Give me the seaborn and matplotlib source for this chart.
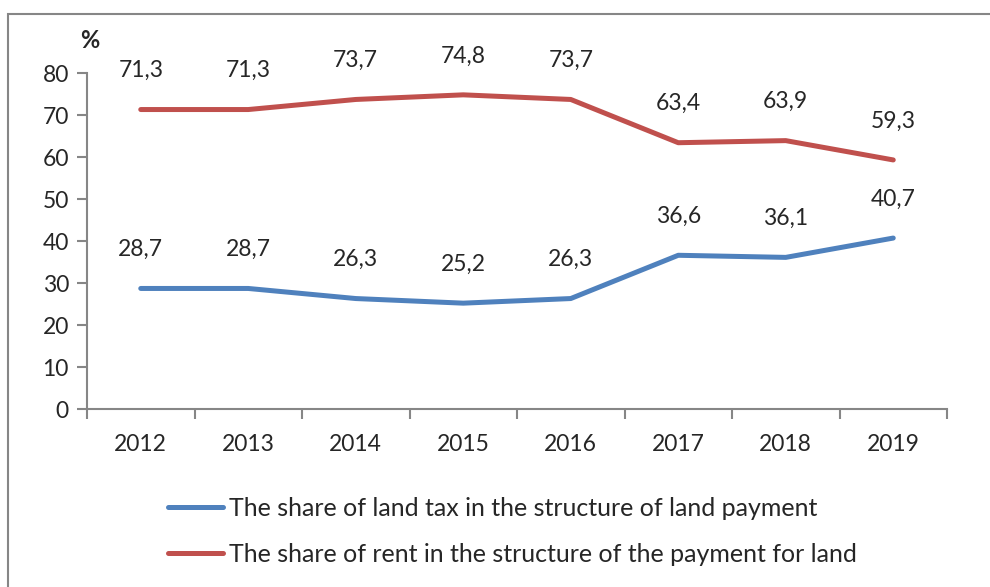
import matplotlib.pyplot as plt
import matplotlib.patches as patches
import numpy as np
import pandas as pd
import seaborn as sns

# data
years = ["2012", "2013", "2014", "2015", "2016", "2017", "2018", "2019"]
land_tax = [28.7, 28.7, 26.3, 25.2, 26.3, 36.6, 36.1, 40.7]
rent = [71.3, 71.3, 73.7, 74.8, 73.7, 63.4, 63.9, 59.3]
series_names = [
    "The share of land tax in the structure of land payment",
    "The share of rent in the structure of the payment for land",
]
colors = ["#4F81BD", "#C0504D"]

sns.set_style("white")
plt.rcParams["font.family"] = ["Lato", "DejaVu Sans"]

df = pd.DataFrame({
    "year": years * 2,
    "value": land_tax + rent,
    "series": [series_names[0]] * len(years) + [series_names[1]] * len(years),
})
df["pos"] = list(range(len(years))) * 2

fig = plt.figure(figsize=(9.9, 5.87), dpi=100)
ax = fig.add_axes([87 / 990, 1 - 409 / 587, (947 - 87) / 990, (409 - 73) / 587])

sns.lineplot(data=df, x="pos", y="value", hue="series", palette=colors,
             linewidth=3.6, ax=ax, legend=True)

# value labels above points
for vals, col in [(land_tax, colors[0]), (rent, colors[1])]:
    for i, v in enumerate(vals):
        ax.annotate(f"{v:.1f}".replace(".", ","), (i, v), xytext=(0, 28),
                    textcoords="offset points", ha="center", va="center",
                    fontsize=16.5, color="#262626")

grey = "#868686"
ax.set_xlim(-0.5, len(years) - 0.5)
ax.set_ylim(0, 80)
ax.set_yticks(np.arange(0, 81, 10))
ax.set_xticks(range(len(years)))
ax.set_xticklabels(years)
ax.set_xticks(np.arange(-0.5, len(years), 1), minor=True)
ax.tick_params(axis="x", which="major", length=0, pad=18, labelsize=16.5, labelcolor="#262626")
ax.tick_params(axis="x", which="minor", length=7, width=1.5, color=grey, direction="out", bottom=True)
ax.tick_params(axis="y", length=7, width=1.5, color=grey, direction="out", left=True,
               pad=6, labelsize=16.5, labelcolor="#262626")
ax.set_xlabel("")
ax.set_ylabel("")
for side in ["top", "right"]:
    ax.spines[side].set_visible(False)
for side in ["left", "bottom"]:
    ax.spines[side].set_color(grey)
    ax.spines[side].set_linewidth(1.5)

fig.text(90 / 990, 1 - 40 / 587, "%", fontsize=17, fontweight="bold", ha="center", va="center",
         color="#262626")

handles, labels = ax.get_legend_handles_labels()
ax.legend(handles, labels, loc="upper left", bbox_to_anchor=(168 / 990, 1 - 497 / 587),
          bbox_transform=fig.transFigure, frameon=False, fontsize=18, borderpad=0,
          borderaxespad=0, handlelength=2.2, handletextpad=0.25, labelspacing=0.9,
          labelcolor="#262626")

# outer chart frame
fig.patches.append(patches.Rectangle((8 / 990, -0.1), 1.2, 1 - 14 / 587 + 0.1,
                                     transform=fig.transFigure, fill=False,
                                     edgecolor=grey, linewidth=1.5))

fig.savefig("out.png", dpi=100)
